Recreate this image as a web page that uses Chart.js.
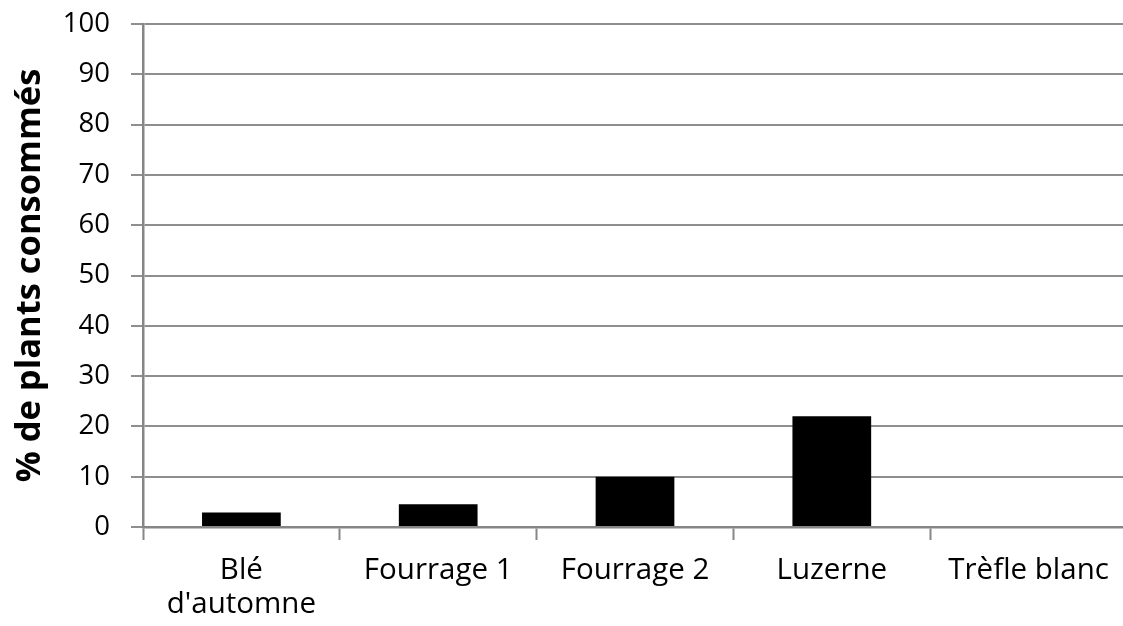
<!DOCTYPE html>
<html lang="fr">
<head>
<meta charset="utf-8">
<title>% de plants consommés</title>
<script src="https://cdn.jsdelivr.net/npm/chart.js@4/dist/chart.umd.min.js"></script>
<style>
  html, body { margin: 0; padding: 0; background: #ffffff; overflow: hidden; }
  #wrap { position: relative; width: 1140px; height: 626px; }
</style>
</head>
<body>
<div id="wrap"><canvas id="chart"></canvas></div>
<script>
// Cultures testées (libellés sur deux lignes si besoin)
const categories = [["Blé", "d'automne"], "Fourrage 1", "Fourrage 2", "Luzerne", "Trèfle blanc"];
// Pourcentage de plants consommés par culture
const consumed = [2.9, 4.5, 10, 22, 0];
// Graduations de l'axe vertical
const yTicks = [0, 10, 20, 30, 40, 50, 60, 70, 80, 90, 100];

const AXIS_GREY = "#868686";
const GRID_GREY = "#8e8e8e";
const FONT = "'Open Sans', Lato, sans-serif";

new Chart(document.getElementById("chart"), {
  type: "bar",
  data: {
    labels: categories,
    datasets: [{
      label: "% de plants consommés",
      data: consumed,
      backgroundColor: "#000000",
      borderWidth: 0,
      categoryPercentage: 0.4,
      barPercentage: 1.0
    }]
  },
  options: {
    responsive: true,
    maintainAspectRatio: false,
    animation: false,
    devicePixelRatio: 1,
    layout: { padding: { top: 24, right: 13, bottom: 0, left: 0 } },
    plugins: {
      legend: { display: false },
      tooltip: { enabled: false }
    },
    scales: {
      x: {
        offset: true,
        grid: {
          offset: true,
          drawOnChartArea: false,
          drawTicks: true,
          tickLength: 13,
          tickWidth: 2,
          tickColor: AXIS_GREY
        },
        border: { display: true, color: AXIS_GREY, width: 2.5 },
        ticks: {
          color: "#000000",
          padding: 14,
          maxRotation: 0,
          autoSkip: false,
          font: { family: FONT, size: 29.5, lineHeight: 1.15 }
        },
        afterFit(scale) { scale.height = 99; }
      },
      y: {
        min: 0,
        max: 100,
        afterBuildTicks(scale) { scale.ticks = yTicks.map(v => ({ value: v })); },
        grid: {
          color: GRID_GREY,
          lineWidth: 2,
          drawTicks: true,
          tickLength: 12,
          tickColor: GRID_GREY
        },
        border: { display: true, color: AXIS_GREY, width: 2.5 },
        ticks: {
          color: "#000000",
          padding: 21,
          font: { family: FONT, size: 27.5 }
        },
        title: {
          display: true,
          text: "% de plants consommés",
          color: "#000000",
          padding: { top: 9, bottom: 0 },
          font: { family: FONT, size: 34.5, weight: "bold", lineHeight: 1.2 }
        },
        afterFit(scale) {
          // fixed axis width; the plot top is set by the layout padding alone
          scale.width = 143;
          scale.paddingTop = 0;
          scale.paddingBottom = 0;
        }
      }
    }
  }
});
</script>
</body>
</html>
